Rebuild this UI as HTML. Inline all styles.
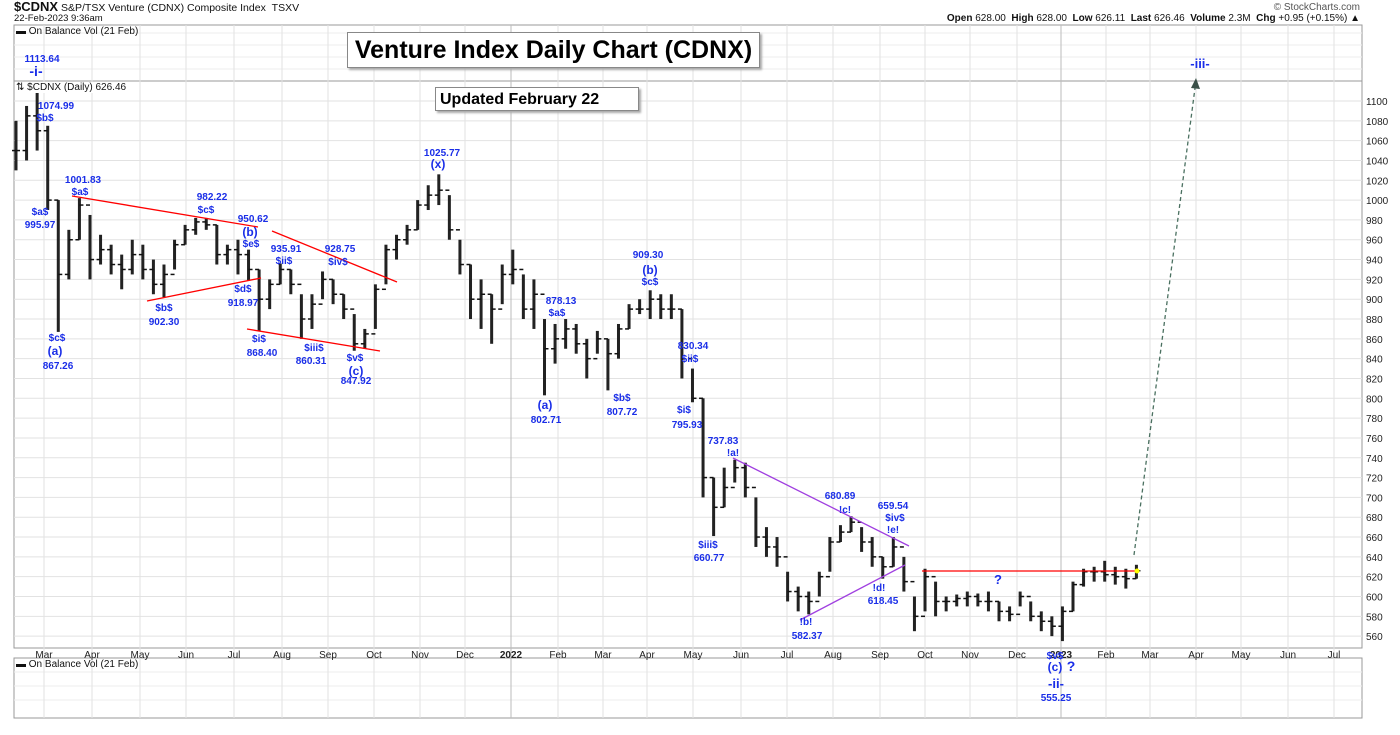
<!DOCTYPE html>
<html><head><meta charset="utf-8">
<style>
body{margin:0;background:#fff;font-family:"Liberation Sans",sans-serif;}
svg text{font-family:"Liberation Sans",sans-serif;}
</style></head>
<body>
<svg id="chart" width="1400" height="730" xmlns="http://www.w3.org/2000/svg">
<g id="grid"></g>
<g id="bars"></g>
<g id="axes"></g>
<g id="ann"></g>
</svg>
<script>
// weekly data, week 0 = 8 Feb 2021
const weekLows = [1030,1040,1050,990,867,920,960,920,935,925,910,925,920,905,902,930,955,965,970,935,935,925,919,868,890,915,905,860,870,900,895,880,848,850,870,915,940,955,970,990,995,960,925,880,870,855,895,915,880,870,803,835,850,845,820,845,808,840,870,885,880,880,880,820,796,700,661,690,715,700,650,640,630,595,585,582,600,625,655,665,645,630,618,630,605,565,585,580,585,590,590,590,585,575,575,590,575,565,560,555,585,610,615,615,612,608,618];
const weekHighs = [1080,1095,1113,1075,1000,970,1002,985,965,955,945,960,955,940,935,960,975,982,982,975,955,960,950,930,920,936,930,905,905,928,920,905,885,870,915,955,965,975,1000,1015,1026,1005,960,935,920,905,935,950,925,920,880,875,880,875,860,868,860,875,895,900,909,905,905,890,830,800,720,730,738,735,700,670,660,625,610,605,625,660,672,681,670,660,640,660,640,600,628,615,600,602,605,603,605,595,590,605,595,585,580,590,615,628,630,636,630,628,632];
const weekCloses = [1050,1085,1070,1000,925,960,995,940,950,935,930,945,930,915,925,955,970,978,975,945,950,945,930,900,915,930,915,880,895,920,905,890,855,865,910,950,960,970,995,1005,1010,970,935,900,905,890,925,930,890,905,850,860,870,855,840,860,845,870,890,890,900,890,890,840,800,720,690,710,730,710,660,650,640,605,600,595,620,655,665,675,655,640,630,650,615,580,620,595,595,598,600,595,595,585,582,600,580,575,570,585,612,625,625,622,620,618,626];

const y = v => 101 + (1100 - v) * 0.991;
const x = w => 16 + w * 7 * 1.51;
const NS="http://www.w3.org/2000/svg";
function mk(tag, attrs, parent, text){
  const e=document.createElementNS(NS,tag);
  for(const k in attrs) e.setAttribute(k, attrs[k]);
  if(text!==undefined) e.textContent=text;
  parent.appendChild(e); return e;
}
const grid=document.getElementById('grid'), bars=document.getElementById('bars'), axes=document.getElementById('axes'), ann=document.getElementById('ann');

mk('rect',{x:14,y:25,width:1348,height:56,fill:'none',stroke:'#999'},grid);
mk('rect',{x:14,y:81,width:1348,height:567,fill:'none',stroke:'#999'},grid);
mk('rect',{x:14,y:658,width:1348,height:60,fill:'none',stroke:'#999'},grid);

const yTicks=[560,580,600,620,640,660,680,700,720,740,760,780,800,820,840,860,880,900,920,940,960,980,1000,1020,1040,1060,1080,1100];
yTicks.forEach(v=>{
  const l=mk('line',{x1:14,x2:1362,y1:y(v),y2:y(v),stroke:'#e2e2e2'},grid);
  
  
  const t=mk('text',{x:1366,y:y(v)+4,'font-size':10,fill:'#222'},axes,String(v));
  
  
});
[33,45,57,69].forEach(yy=>mk('line',{x1:14,x2:1362,y1:yy,y2:yy,stroke:'#eee'},grid));
[672,686,700].forEach(yy=>mk('line',{x1:14,x2:1362,y1:yy,y2:yy,stroke:'#eee'},grid));

const monthLabels=['Mar','Apr','May','Jun','Jul','Aug','Sep','Oct','Nov','Dec','2022','Feb','Mar','Apr','May','Jun','Jul','Aug','Sep','Oct','Nov','Dec','2023','Feb','Mar','Apr','May','Jun','Jul'];
const monthX=[44,92,140,186,234,282,328,374,420,465,511,558,603,647,693,741,787,833,880,925,970,1017,1061,1106,1150,1196,1241,1288,1334];
monthLabels.forEach((m,i)=>{
  const yr = m==='2022'||m==='2023';
  mk('line',{x1:monthX[i],x2:monthX[i],y1:25,y2:718,stroke:yr?'#bbb':'#e2e2e2'},grid);
  const t=mk('text',{x:monthX[i],y:658,'font-size':10,'text-anchor':'middle',fill:'#222','font-weight':yr?'bold':'normal'},axes,m);
  
  
});
weekLows.forEach((lo,i)=>{
  const xx=x(i);
  const b=mk('rect',{x:xx-1.5,width:3,y:y(weekHighs[i]),height:y(lo)-y(weekHighs[i]),fill:'#222'},bars);
  
  
  mk('line',{x1:xx,x2:xx+4,y1:y(weekCloses[i]),y2:y(weekCloses[i]),stroke:'#111','stroke-width':1.5},bars);
  const o = i>0?weekCloses[i-1]:weekCloses[i];
  mk('line',{x1:xx-4,x2:xx,y1:y(o),y2:y(o),stroke:'#111','stroke-width':1.5},bars);
});

const lines=[[72,196,258,227,'red'],[147,301,261,278,'red'],[272,231,397,282,'red'],[247,329,380,351,'red'],
[733,458,909,546,'#a040e0'],[800,620,905,565,'#a040e0'],[922,571,1137,571,'red']];
lines.forEach(l=>{const e=mk('line',{x1:l[0],y1:l[1],x2:l[2],y2:l[3],stroke:l[4],'stroke-width':1.3},ann);
});
const ar=mk('line',{x1:1134,y1:555,x2:1195,y2:88,stroke:'#4a7060','stroke-width':1.3,'stroke-dasharray':'4,3'},ann);

mk('polygon',{points:'1196,78 1191,88 1200,89',fill:'#3a5048'},ann);
mk('circle',{cx:1137,cy:571,r:2.5,fill:'#ff0'},ann);

const labels=[
[42,62,'1113.64',10],[36,76,'-i-',14],[56,109,'1074.99',10],[45,121,'$b$',10],[40,215,'$a$',10],[40,228,'995.97',10],
[57,341,'$c$',10],[55,355,'(a)',12],[58,369,'867.26',10],[83,183,'1001.83',10],[80,195,'$a$',10],[212,200,'982.22',10],[206,213,'$c$',10],
[253,222,'950.62',10],[250,236,'(b)',12],[251,247,'$e$',10],[243,292,'$d$',10],[243,306,'918.97',10],[164,311,'$b$',10],[164,325,'902.30',10],
[286,252,'935.91',10],[284,264,'$ii$',10],[340,252,'928.75',10],[338,265,'$iv$',10],[259,342,'$i$',10],[262,356,'868.40',10],
[314,351,'$iii$',10],[311,364,'860.31',10],[355,361,'$v$',10],[356,375,'(c)',12],[356,384,'847.92',10],
[442,156,'1025.77',10],[438,168,'(x)',12],[561,304,'878.13',10],[557,316,'$a$',10],[545,409,'(a)',12],[546,423,'802.71',10],
[648,258,'909.30',10],[650,274,'(b)',12],[650,285,'$c$',10],[622,401,'$b$',10],[622,415,'807.72',10],[693,349,'830.34',10],[690,362,'$ii$',10],
[684,413,'$i$',10],[687,428,'795.93',10],[723,444,'737.83',10],[733,456,'!a!',10],[708,548,'$iii$',10],[709,561,'660.77',10],
[806,625,'!b!',10],[807,639,'582.37',10],[840,499,'680.89',10],[845,513,'!c!',10],[893,509,'659.54',10],[895,521,'$iv$',10],[893,533,'!e!',10],
[879,591,'!d!',10],[883,604,'618.45',10],[998,584,'?',13],[1055,659,'$v$',10],[1055,671,'(c)',12],[1071,671,'?',14],[1056,688,'-ii-',13],[1056,701,'555.25',10],
[1200,68,'-iii-',13]];
labels.forEach(l=>{const t=mk('text',{x:l[0],y:l[1],'font-size':l[3],'font-weight':'bold',fill:'#1a2ee8','text-anchor':'middle'},ann,l[2]);
});
</script>
<div style="position:absolute;left:14px;top:0;font-size:10.5px;color:#111;line-height:14px"><b style="font-size:13px">$CDNX</b> S&amp;P/TSX Venture (CDNX) Composite Index &nbsp;TSXV</div>
<div style="position:absolute;left:14px;top:14px;font-size:9.5px;color:#111;line-height:10px">22-Feb-2023 9:36am</div>
<div style="position:absolute;right:40px;top:2px;font-size:10px;color:#555">© StockCharts.com</div>
<div style="position:absolute;right:40px;top:13px;font-size:10px;color:#111"><b>Open</b> 628.00 &nbsp;<b>High</b> 628.00 &nbsp;<b>Low</b> 626.11 &nbsp;<b>Last</b> 626.46 &nbsp;<b>Volume</b> 2.3M &nbsp;<b>Chg</b> +0.95 (+0.15%) ▲</div>
<div style="position:absolute;left:16px;top:26px;font-size:10px;color:#111">▬ On Balance Vol (21 Feb)</div>
<div style="position:absolute;left:16px;top:82px;font-size:10px;color:#111;background:#fff">⇅ $CDNX (Daily) 626.46</div>
<div style="position:absolute;left:16px;top:659px;font-size:10px;color:#111">▬ On Balance Vol (21 Feb)</div>
<div style="position:absolute;left:347px;top:32px;width:411px;height:34px;border:1px solid #888;box-shadow:2px 2px 2px #aaa;background:#fff;font-weight:bold;font-size:25px;text-align:center;line-height:34px">Venture Index Daily Chart (CDNX)</div>
<div style="position:absolute;left:435px;top:87px;width:204px;height:24px;border:1px solid #888;box-shadow:2px 2px 2px #aaa;background:#fff;font-weight:bold;font-size:16px;line-height:24px;padding-left:4px;box-sizing:border-box">Updated February 22</div>
</body></html>
